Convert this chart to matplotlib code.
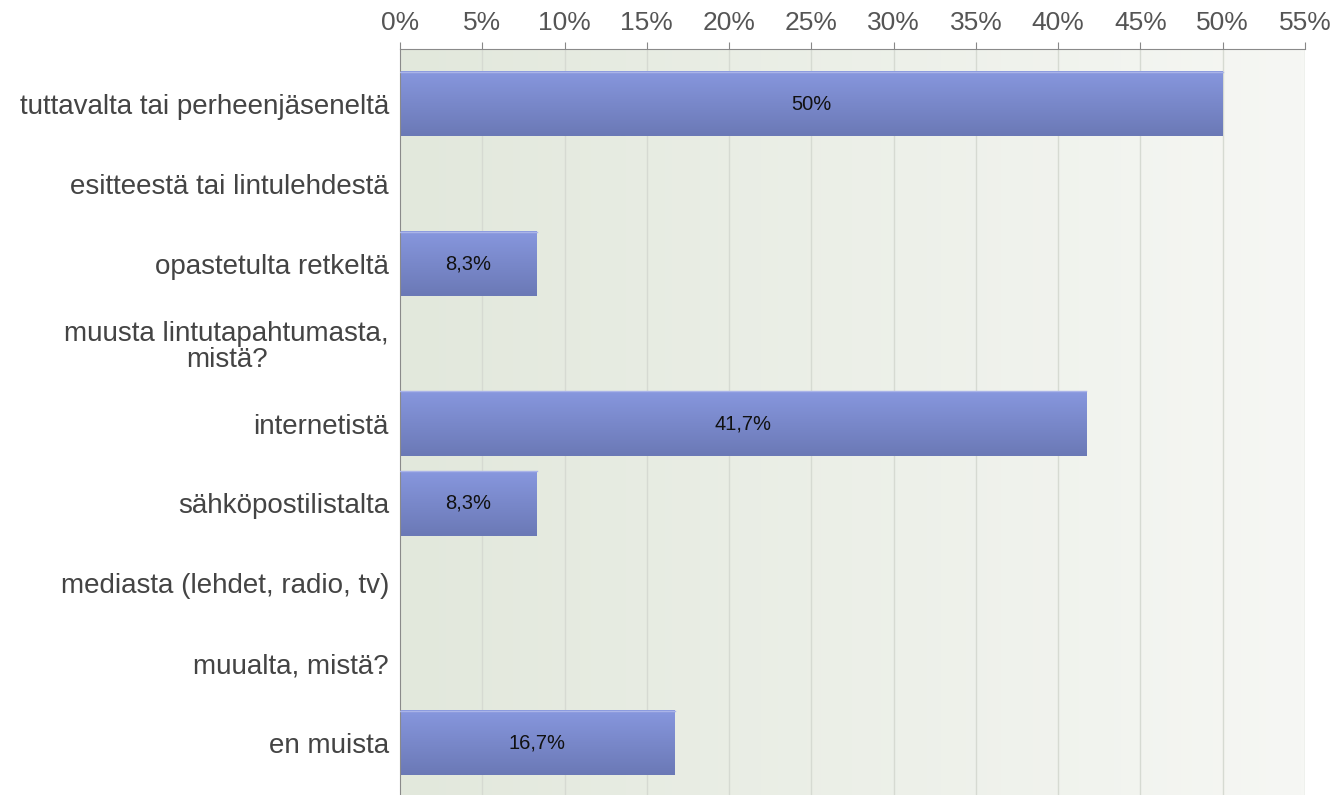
import numpy as np
import matplotlib
matplotlib.use("Agg")
import matplotlib.pyplot as plt
from matplotlib.colors import LinearSegmentedColormap

categories = [
    "tuttavalta tai perheenjäseneltä",
    "esitteestä tai lintulehdestä",
    "opastetulta retkeltä",
    "muusta lintutapahtumasta,\nmistä?",
    "internetistä",
    "sähköpostilistalta",
    "mediasta (lehdet, radio, tv)",
    "muualta, mistä?",
    "en muista",
]
values = [50.0, 0.0, 8.3, 0.0, 41.7, 8.3, 0.0, 0.0, 16.7]
value_labels = ["50%", "", "8,3%", "", "41,7%", "8,3%", "", "", "16,7%"]
ticks = list(range(0, 56, 5))

plt.rcParams['font.family'] = ['Liberation Sans', 'DejaVu Sans']
fig = plt.figure(figsize=(13.37, 7.95), dpi=100)
ax = fig.add_axes([400 / 1337, 0.0, 905 / 1337, 1 - 49 / 795])

ymin, ymax = -0.69, len(categories) - 1 + 0.65
xmax = 55

# background gradient (greenish left -> near white right)
bg = LinearSegmentedColormap.from_list("bg", ["#e2e8dc", "#f6f7f4"])
grad = np.linspace(0, 1, 256).reshape(1, -1)
ax.imshow(grad, cmap=bg, aspect="auto", extent=(0, xmax, ymax, ymin), zorder=0)

for t in ticks[1:-1]:
    ax.axvline(t, color="#d6dad2", lw=1, zorder=1)

# bars with vertical gradient
barcm = LinearSegmentedColormap.from_list("bar", ["#8797de", "#6b79b6"])
vgrad = np.linspace(0, 1, 64).reshape(-1, 1)
h = 0.81
for i, (v, lab) in enumerate(zip(values, value_labels)):
    if v <= 0:
        continue
    ax.imshow(vgrad, cmap=barcm, aspect="auto",
              extent=(0, v, i + h / 2, i - h / 2), zorder=2)
    ax.plot([0, v], [i - h / 2, i - h / 2], color="#aab4e8", lw=1, zorder=3)
    ax.text(v / 2, i, lab, ha="center", va="center", fontsize=14.5,
            color="#111111", zorder=4)

ax.set_xlim(0, xmax)
ax.set_ylim(ymax, ymin)
ax.set_yticks(range(len(categories)))
ax.set_yticklabels(categories, fontsize=20, color="#444444", ha="right",
                   multialignment="center", linespacing=1.0)
ax.tick_params(axis="y", length=0, pad=8)
ax.xaxis.tick_top()
ax.set_xticks(ticks)
ax.set_xticklabels([f"{t}%" for t in ticks], fontsize=19, color="#555555")
ax.tick_params(axis="x", length=5, color="#888888", pad=5)

for s in ["right", "bottom"]:
    ax.spines[s].set_visible(False)
ax.spines["top"].set_color("#8a8a8a")
ax.spines["left"].set_color("#8a8a8a")
ax.axvline(xmax, color="#d6dad2", lw=1, zorder=1)

fig.savefig("out.png", dpi=100)
